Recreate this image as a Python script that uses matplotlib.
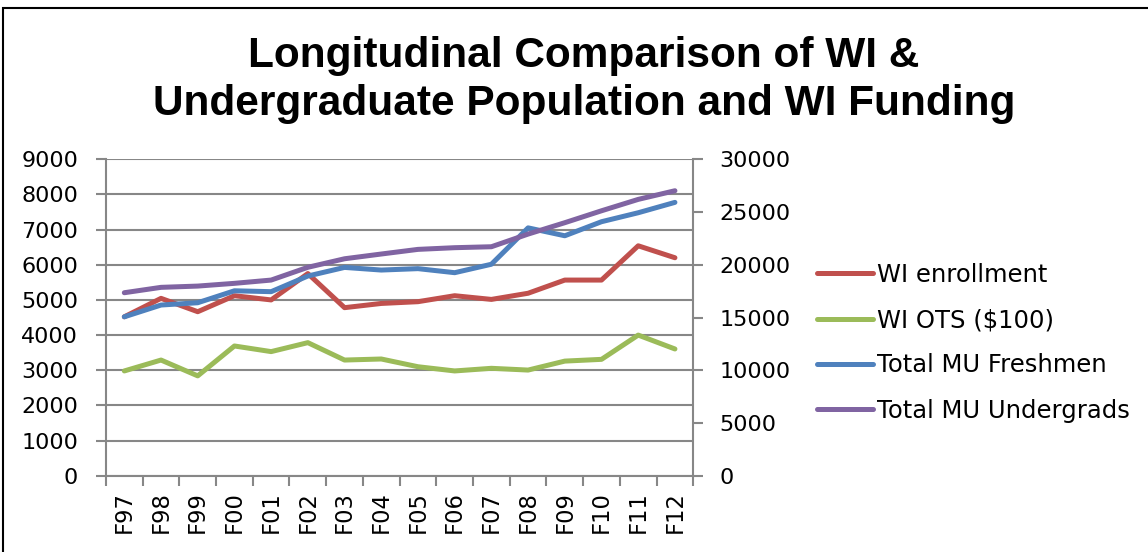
import matplotlib.pyplot as plt
from matplotlib.patches import Rectangle

plt.rcParams["font.family"] = ["DejaVu Sans"]

terms = ["F97", "F98", "F99", "F00", "F01", "F02", "F03", "F04",
         "F05", "F06", "F07", "F08", "F09", "F10", "F11", "F12"]

# left axis series
wi_enrollment = [4520, 5045, 4665, 5120, 5000, 5750, 4780, 4900,
                 4950, 5120, 5015, 5190, 5565, 5565, 6540, 6200]
wi_ots = [2980, 3290, 2840, 3690, 3530, 3785, 3290, 3320,
          3100, 2980, 3055, 3005, 3260, 3310, 4000, 3605]
mu_freshmen = [4520, 4855, 4920, 5260, 5235, 5680, 5925, 5850,
               5890, 5775, 6015, 7050, 6825, 7225, 7480, 7775]
# right axis series
mu_undergrads = [17350, 17860, 17980, 18240, 18550, 19760, 20570, 21020,
                 21460, 21620, 21710, 22910, 23990, 25120, 26200, 27020]

RED, GREEN, BLUE, PURPLE = "#C0504D", "#9BBB59", "#4F81BD", "#8064A2"
GRID = "#878787"

fig = plt.figure(figsize=(11.48, 5.52), dpi=100)
ax = fig.add_axes([0.0923, 0.1382, 0.5116, 0.5732])
ax2 = ax.twinx()

x = list(range(len(terms)))
style = dict(lw=3.6, solid_capstyle="round", solid_joinstyle="round")
l1, = ax.plot(x, wi_enrollment, color=RED, label="WI enrollment", **style)
l2, = ax.plot(x, wi_ots, color=GREEN, label="WI OTS ($100)", **style)
l3, = ax.plot(x, mu_freshmen, color=BLUE, label="Total MU Freshmen", **style)
l4, = ax2.plot(x, mu_undergrads, color=PURPLE, label="Total MU Undergrads", **style)

ax.set_xlim(-0.5, len(terms) - 0.5)
ax.set_ylim(0, 9000)
ax.set_yticks(range(0, 9001, 1000))
ax2.set_ylim(0, 30000)
ax2.set_yticks(range(0, 30001, 5000))
ax.yaxis.grid(True, color=GRID, lw=1.5)
ax.set_axisbelow(True)

# category boundaries get the tick marks, centres get the labels
ax.set_xticks([i - 0.5 for i in range(len(terms) + 1)])
ax.set_xticklabels([])
ax.set_xticks(x, minor=True)
ax.set_xticklabels(terms, minor=True, rotation=90, fontsize=16.3)
ax.tick_params(axis="x", which="minor", length=0, pad=11)
ax.tick_params(axis="x", which="major", length=7.5, width=1.5, color=GRID)
ax.tick_params(axis="y", labelsize=16, length=7.5, width=1.5, color=GRID, pad=12.5)
ax2.tick_params(axis="y", labelsize=16, length=7.5, width=1.5, color=GRID, pad=11.5)

for a in (ax, ax2):
    for s in a.spines.values():
        s.set_visible(False)
ax.spines["left"].set_visible(True)
ax.spines["bottom"].set_visible(True)
ax2.spines["right"].set_visible(True)
for s in (ax.spines["left"], ax.spines["bottom"], ax2.spines["right"]):
    s.set_color(GRID)
    s.set_linewidth(1.5)

fig.legend(handles=[l1, l2, l3, l4], loc="center left",
           bbox_to_anchor=(0.693, 0.379), frameon=False, fontsize=17.5,
           handlelength=2.3, handletextpad=0.17, labelspacing=0.88)

title_font = dict(ha="center", va="baseline", fontsize=30.5,
                  fontweight="bold", family=["Liberation Sans", "DejaVu Sans"])
fig.text(0.5087, 0.878, "Longitudinal Comparison of WI &", **title_font)
fig.text(0.5087, 0.7917, "Undergraduate Population and WI Funding", **title_font)

# outer chart border (right and bottom run off the page)
fig.add_artist(Rectangle((3 / 1148, -0.05), 1.2, 1 - 8 / 552 + 0.05,
                         transform=fig.transFigure, fill=False,
                         edgecolor="black", lw=1.5))

fig.savefig("out.png", dpi=100)
